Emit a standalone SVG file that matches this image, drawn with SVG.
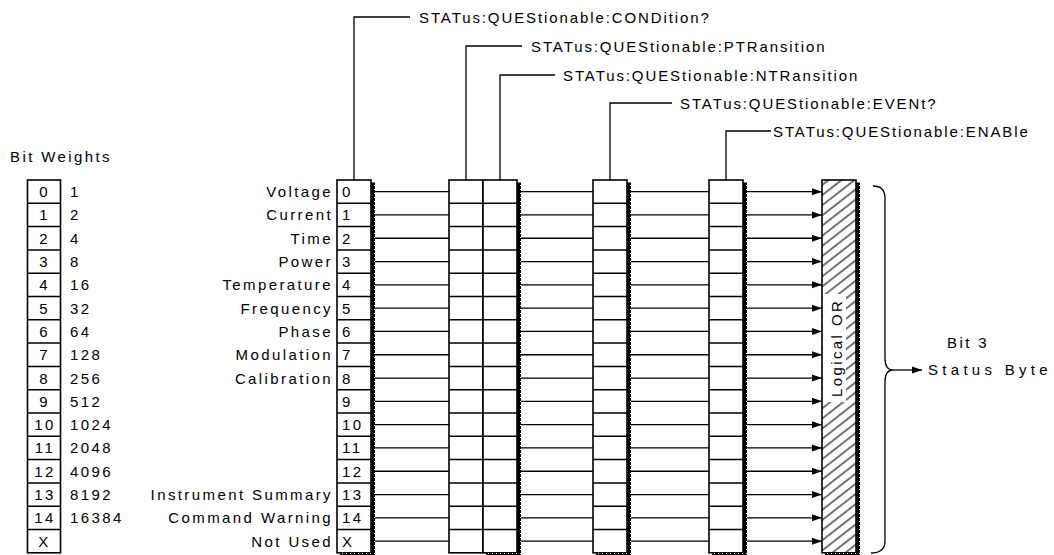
<svg xmlns="http://www.w3.org/2000/svg" width="1054" height="555" viewBox="0 0 1054 555">
<style>
text{font-family:"Liberation Sans",Arial,sans-serif;font-size:15px;fill:#000;letter-spacing:2.4px}
.top{letter-spacing:1.9px}
.box{fill:#fff;stroke:#000;stroke-width:1.6}
.div{fill:none;stroke:#000;stroke-width:1.5}
.ln{fill:none;stroke:#000;stroke-width:1.3}
.mid{text-anchor:middle}
.end{text-anchor:end}
</style>
<defs>
<pattern id="stip" patternUnits="userSpaceOnUse" width="4" height="4">
<rect width="4" height="4" fill="#000"/><rect x="1" y="1" width="1" height="1" fill="#fff"/>
</pattern>
<pattern id="hatch" patternUnits="userSpaceOnUse" width="8" height="8" patternTransform="rotate(-38)">
<line x1="0" y1="4" x2="8" y2="4" stroke="#000" stroke-width="1.1"/>
</pattern>
<marker id="ah" markerUnits="userSpaceOnUse" markerWidth="10" markerHeight="8" refX="10" refY="4" orient="auto">
<path d="M0,0.5 L10,4 L0,7.5 z" fill="#000"/>
</marker>
<path id="rows" d="M0 203.3H34M0 226.6H34M0 249.9H34M0 273.2H34M0 296.5H34M0 319.8H34M0 343.1H34M0 366.4H34M0 389.7H34M0 413H34M0 436.3H34M0 459.6H34M0 482.9H34M0 506.2H34M0 529.5H34"/>
<g id="reg">
<rect class="box" x="0" y="180" width="34" height="372.8"/>
<use href="#rows" class="div"/>
</g>
<path id="shadow" d="M34 182.5h4v373h-4zM3 552.8h35v4h-35z" fill="url(#stip)"/>
</defs>
<rect width="1054" height="555" fill="#fff"/>

<g id="bit-weights">
<text x="10" y="162">Bit Weights</text>
<rect class="box" x="27.5" y="180" width="33" height="372.8"/>
<path class="div" d="M27.5 203.3H60.5M27.5 226.6H60.5M27.5 249.9H60.5M27.5 273.2H60.5M27.5 296.5H60.5M27.5 319.8H60.5M27.5 343.1H60.5M27.5 366.4H60.5M27.5 389.7H60.5M27.5 413H60.5M27.5 436.3H60.5M27.5 459.6H60.5M27.5 482.9H60.5M27.5 506.2H60.5M27.5 529.5H60.5"/>
<g class="mid">
<text x="44.5" y="197.15">0</text><text x="44.5" y="220.45">1</text><text x="44.5" y="243.75">2</text><text x="44.5" y="267.05">3</text>
<text x="44.5" y="290.35">4</text><text x="44.5" y="313.65">5</text><text x="44.5" y="336.95">6</text><text x="44.5" y="360.25">7</text>
<text x="44.5" y="383.55">8</text><text x="44.5" y="406.85">9</text><text x="45" y="430.15">10</text><text x="45" y="453.45">11</text>
<text x="45" y="476.75">12</text><text x="45" y="500.05">13</text><text x="45" y="523.35">14</text><text x="44.5" y="546.65">X</text>
</g>
<text x="70" y="197.15">1</text><text x="70" y="220.45">2</text><text x="70" y="243.75">4</text><text x="70" y="267.05">8</text>
<text x="70" y="290.35">16</text><text x="70" y="313.65">32</text><text x="70" y="336.95">64</text><text x="70" y="360.25">128</text>
<text x="70" y="383.55">256</text><text x="70" y="406.85">512</text><text x="70" y="430.15">1024</text><text x="70" y="453.45">2048</text>
<text x="70" y="476.75">4096</text><text x="70" y="500.05">8192</text><text x="70" y="523.35">16384</text>
</g>

<g id="condition-labels" class="end">
<text x="333" y="197.15">Voltage</text>
<text x="333" y="220.45">Current</text>
<text x="333" y="243.75">Time</text>
<text x="333" y="267.05">Power</text>
<text x="333" y="290.35">Temperature</text>
<text x="333" y="313.65">Frequency</text>
<text x="333" y="336.95">Phase</text>
<text x="333" y="360.25">Modulation</text>
<text x="333" y="383.55">Calibration</text>
<text x="333" y="500.05">Instrument Summary</text>
<text x="333" y="523.35">Command Warning</text>
<text x="333" y="546.65">Not Used</text>
</g>

<g id="reg-condition">
<use href="#reg" x="337"/>
<use href="#shadow" x="337"/>
<text x="342" y="197.15">0</text><text x="342" y="220.45">1</text><text x="342" y="243.75">2</text><text x="342" y="267.05">3</text>
<text x="342" y="290.35">4</text><text x="342" y="313.65">5</text><text x="342" y="336.95">6</text><text x="342" y="360.25">7</text>
<text x="342" y="383.55">8</text><text x="342" y="406.85">9</text><text x="342" y="430.15">10</text><text x="342" y="453.45">11</text>
<text x="342" y="476.75">12</text><text x="342" y="500.05">13</text><text x="342" y="523.35">14</text><text x="342" y="546.65">X</text>
<text class="top" x="419" y="22.5">STATus:QUEStionable:CONDition?</text>
</g>

<g id="reg-ptransition">
<use href="#reg" x="449"/>
<text class="top" x="531" y="51.5">STATus:QUEStionable:PTRansition</text>
</g>

<g id="reg-ntransition">
<use href="#reg" x="483"/>
<use href="#shadow" x="483"/>
<text class="top" x="563" y="80.5">STATus:QUEStionable:NTRansition</text>
</g>

<g id="reg-event">
<use href="#reg" x="593"/>
<use href="#shadow" x="593"/>
<text class="top" x="680" y="108.5">STATus:QUEStionable:EVENt?</text>
</g>

<g id="reg-enable">
<use href="#reg" x="709"/>
<use href="#shadow" x="709"/>
<text class="top" x="773" y="136.5">STATus:QUEStionable:ENABle</text>
</g>

<g id="logical-or">
<rect x="822" y="180" width="34" height="372.8" fill="url(#hatch)" stroke="#000" stroke-width="1.6"/>
<use href="#shadow" x="822"/>
<rect x="823" y="294" width="23" height="108" fill="#fff"/>
<text transform="translate(842,397) rotate(-90)">Logical OR</text>
</g>

<g id="status-byte">
<text x="947" y="348">Bit 3</text>
<text x="928" y="375" textLength="122" lengthAdjust="spacing">Status Byte</text>
</g>

<g id="connectors">
<path class="ln" d="M354 180V17H410M466 180V46H522M500 180V75H555M610 180V103H672M726 180V131H771"/>
<path class="ln" d="M375 191.65H449M375 214.95H449M375 238.25H449M375 261.55H449M375 284.85H449M375 308.15H449M375 331.45H449M375 354.75H449M375 378.05H449M375 401.35H449M375 424.65H449M375 447.95H449M375 471.25H449M375 494.55H449M375 517.85H449M375 541.15H449"/>
<path class="ln" d="M521 191.65H593M521 214.95H593M521 238.25H593M521 261.55H593M521 284.85H593M521 308.15H593M521 331.45H593M521 354.75H593M521 378.05H593M521 401.35H593M521 424.65H593M521 447.95H593M521 471.25H593M521 494.55H593M521 517.85H593M521 541.15H593"/>
<path class="ln" d="M631 191.65H709M631 214.95H709M631 238.25H709M631 261.55H709M631 284.85H709M631 308.15H709M631 331.45H709M631 354.75H709M631 378.05H709M631 401.35H709M631 424.65H709M631 447.95H709M631 471.25H709M631 494.55H709M631 517.85H709M631 541.15H709"/>
<g class="ln" marker-end="url(#ah)">
<line x1="747" y1="191.65" x2="822" y2="191.65"/><line x1="747" y1="214.95" x2="822" y2="214.95"/>
<line x1="747" y1="238.25" x2="822" y2="238.25"/><line x1="747" y1="261.55" x2="822" y2="261.55"/>
<line x1="747" y1="284.85" x2="822" y2="284.85"/><line x1="747" y1="308.15" x2="822" y2="308.15"/>
<line x1="747" y1="331.45" x2="822" y2="331.45"/><line x1="747" y1="354.75" x2="822" y2="354.75"/>
<line x1="747" y1="378.05" x2="822" y2="378.05"/><line x1="747" y1="401.35" x2="822" y2="401.35"/>
<line x1="747" y1="424.65" x2="822" y2="424.65"/><line x1="747" y1="447.95" x2="822" y2="447.95"/>
<line x1="747" y1="471.25" x2="822" y2="471.25"/><line x1="747" y1="494.55" x2="822" y2="494.55"/>
<line x1="747" y1="517.85" x2="822" y2="517.85"/><line x1="747" y1="541.15" x2="822" y2="541.15"/>
</g>
<path class="ln" d="M873 186Q885 186 885 198V358Q885 370 893 370Q885 370 885 382V541Q885 553 871 553"/>
<line class="ln" x1="893" y1="370" x2="922" y2="370" marker-end="url(#ah)"/>
</g>
</svg>
